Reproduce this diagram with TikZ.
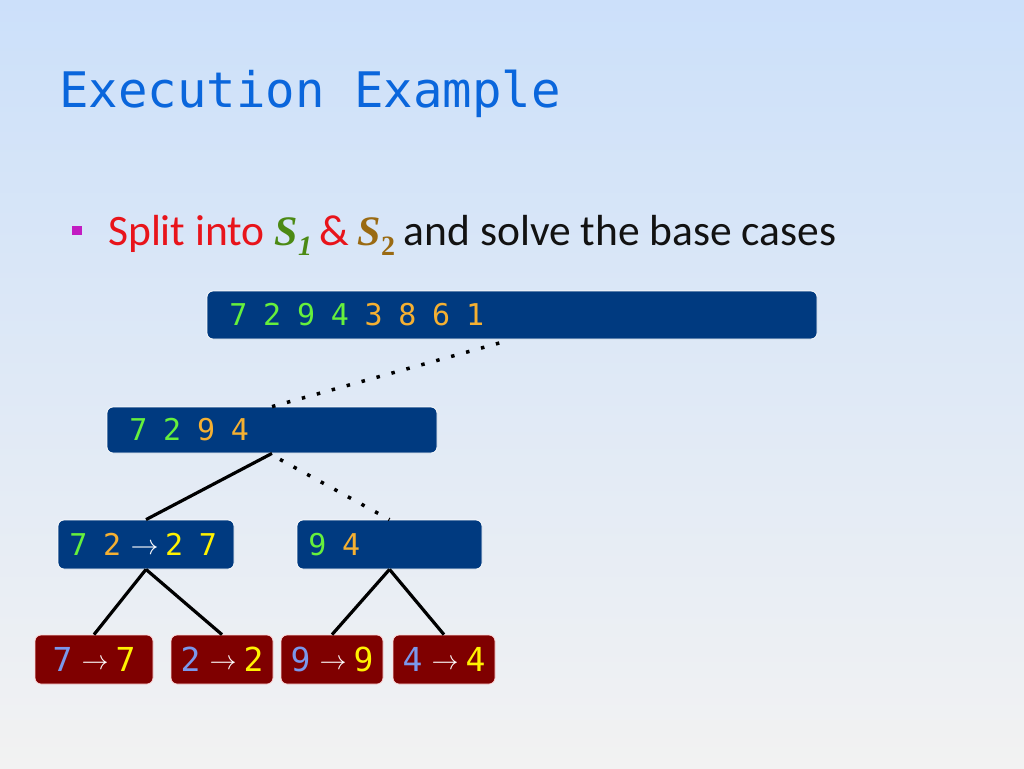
\documentclass[tikz,border=0pt]{standalone}
\usepackage{graphicx}
\usepackage{fontspec}
\setmainfont{Carlito}
\newfontfamily\monof{DejaVu Sans Mono}
\newfontfamily\serift{Liberation Serif}
\definecolor{bgtop}{HTML}{CCE0FA}
\definecolor{bgmid}{HTML}{E7ECF3}
\definecolor{bgbot}{HTML}{F2F2F2}
\definecolor{titleblue}{HTML}{0A66DC}
\definecolor{bulletmag}{HTML}{C21CC2}
\definecolor{splitred}{HTML}{E8141B}
\definecolor{sgreen}{HTML}{4C8A14}
\definecolor{sbrown}{HTML}{9A6A12}
\definecolor{navy}{HTML}{003A80}
\definecolor{leafred}{HTML}{7F0000}
\definecolor{dgreen}{HTML}{66F03C}
\definecolor{dorange}{HTML}{F5B032}
\definecolor{dyellow}{HTML}{FFF200}
\definecolor{dblue}{HTML}{7A98EC}
\newcommand{\dfont}{\monof\fontsize{30pt}{30pt}\selectfont}
\newcommand{\lfont}{\monof\fontsize{33pt}{33pt}\selectfont}
\newcommand{\D}[2]{\makebox[16.9pt][c]{\color{#1}#2}}
\newcommand{\Lf}[2]{\makebox[14pt][c]{\color{#1}#2}}
\newcommand{\Sp}{\hspace*{16.9pt}}
\newcommand{\Arr}{{\color{white}\raisebox{1pt}{\resizebox{28pt}{!}{$\rightarrow$}}}}
\newcommand{\LArr}{{\color{white}\raisebox{2pt}{\resizebox{27pt}{!}{$\rightarrow$}}}}
\tikzset{
  bluebox/.style={font=\dfont, rounded corners=6pt, fill=navy, draw=white, line width=0.8pt, align=left, inner ysep=0pt},
  leafbox/.style={font=\lfont, rounded corners=6pt, fill=leafred, draw=white!85!red, line width=0.8pt, align=center, inner ysep=0pt, inner xsep=0pt},
  solidline/.style={line width=3.2pt, black},
  dotline/.style={line width=3.5pt, black, dash pattern=on 3.5pt off 12pt}
}
\begin{document}
\begin{tikzpicture}[x=1pt,y=-1pt]
\useasboundingbox (0,0) rectangle (1024,768);
\shade[top color=bgtop, middle color=bgmid, bottom color=bgbot] (0,0) rectangle (1024,768);
% title
\node[anchor=base west, inner sep=0pt, text=titleblue, font=\monof\fontsize{49}{49}\selectfont] (title) at (59,107) {Execution Example};
% bullet
\node[fill=bulletmag, minimum width=10pt, minimum height=9pt, inner sep=0pt] (bullet) at (77,230.5) {};
\node[anchor=base west, inner sep=0pt, font=\fontsize{43.5}{43.5}\selectfont] (line) at (108,245)
 {{\color{splitred}Split into}\hspace{0.226em}{\serift\bfseries\itshape\fontsize{42}{42}\selectfont\color{sgreen}S\raisebox{-10pt}{\fontsize{28}{28}\selectfont 1}}\hspace{7pt}{\color{splitred}\&}\hspace{9pt}{\serift\bfseries\itshape\fontsize{42}{42}\selectfont\color{sbrown}S\raisebox{-10pt}{\fontsize{28}{28}\selectfont\upshape 2}}\hspace{0.2em}{\color{black!93}and solve the base cases}};
% boxes
\node[bluebox, minimum width=610pt, minimum height=48pt, inner xsep=23pt, text width=564pt] (top) at (512,315)
 {\D{dgreen}{7}\Sp\D{dgreen}{2}\Sp\D{dgreen}{9}\Sp\D{dgreen}{4}\Sp\D{dorange}{3}\Sp\D{dorange}{8}\Sp\D{dorange}{6}\Sp\D{dorange}{1}};
\node[bluebox, minimum width=330pt, minimum height=46pt, inner xsep=23pt, text width=284pt] (n7294) at (272,430)
 {\D{dgreen}{7}\Sp\D{dgreen}{2}\Sp\D{dorange}{9}\Sp\D{dorange}{4}};
\node[bluebox, minimum width=176pt, minimum height=49pt, inner xsep=12pt, text width=152pt] (n7227) at (146,544.5)
 {\D{dgreen}{7}\Sp\D{dorange}{2}\hspace*{10pt}\Arr\hspace*{7pt}\D{dyellow}{2}\Sp\D{dyellow}{7}};
\node[bluebox, minimum width=185pt, minimum height=49pt, inner xsep=12pt, text width=161pt] (n94) at (389.5,544.5)
 {\D{dgreen}{9}\Sp\D{dorange}{4}};
\node[leafbox, minimum width=118pt, minimum height=49pt] (l77) at (94,659.5) {\Lf{dblue}{7}\hspace*{12pt}\LArr\hspace*{10pt}\Lf{dyellow}{7}};
\node[leafbox, minimum width=102pt, minimum height=49pt] (l22) at (222,659.5) {\Lf{dblue}{2}\hspace*{12pt}\LArr\hspace*{10pt}\Lf{dyellow}{2}};
\node[leafbox, minimum width=102pt, minimum height=49pt] (l99) at (332,659.5) {\Lf{dblue}{9}\hspace*{12pt}\LArr\hspace*{10pt}\Lf{dyellow}{9}};
\node[leafbox, minimum width=102pt, minimum height=49pt] (l44) at (444,659.5) {\Lf{dblue}{4}\hspace*{12pt}\LArr\hspace*{10pt}\Lf{dyellow}{4}};
% connectors
\coordinate (topc) at ([xshift=-7pt, yshift=-2pt]top.south);
\draw[dotline] (n7294.north) -- (topc);
\draw[solidline] (n7294.south) -- (n7227.north);
\draw[dotline] ([xshift=8pt, yshift=-6pt]n7294.south) -- (n94.north);
\draw[solidline] (n7227.south) -- (l77.north);
\draw[solidline] (n7227.south) -- (l22.north);
\draw[solidline] (n94.south) -- (l99.north);
\draw[solidline] (n94.south) -- (l44.north);
\end{tikzpicture}
\end{document}
